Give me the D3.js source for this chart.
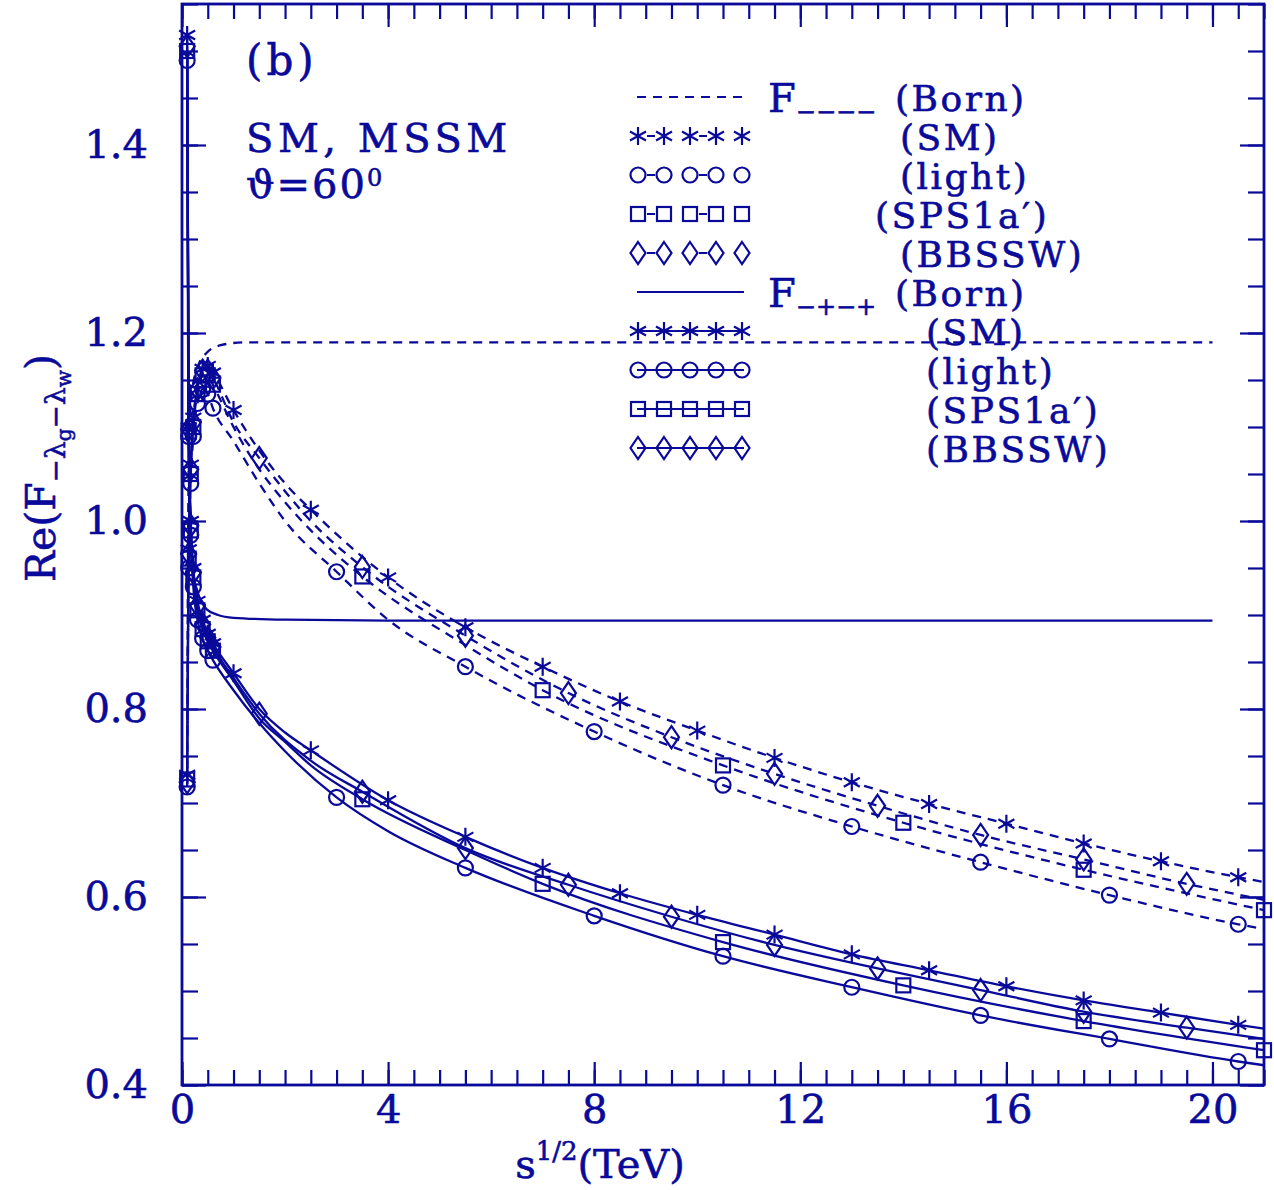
<!DOCTYPE html>
<html>
<head>
<meta charset="utf-8">
<script src="https://cdn.jsdelivr.net/npm/d3@7"></script>
<style>
  body { margin: 0; background: #fff; }
  text { font-family: "DejaVu Serif", serif; fill: #0a0a9a; stroke: #0a0a9a; stroke-width: 0.6px; }
</style>
</head>
<body>
<svg id="chart" width="1274" height="1190"></svg>
<script>
var COL = "#0a0a9a";

// tick values
var xMajor = [0, 4, 8, 12, 16, 20];
var xMinor = d3.range(0, 21.01, 0.5);
var yMajor = [0.4, 0.6, 0.8, 1.0, 1.2, 1.4];
var yMinor = d3.range(0.4, 1.5501, 0.05);

// Born curves
var bornMM = [[0.1,0.72],[0.12,1.0],[0.15,1.1],[0.2,1.14],[0.3,1.163],[0.48,1.179],[0.75,1.187],[1.2,1.19],[20,1.19]];
var bornPM = [[0.1,1.5],[0.12,1.15],[0.15,1.0],[0.2,0.95],[0.3,0.925],[0.48,0.906],[0.7,0.9],[1,0.897],[2,0.895],[4,0.894],[20,0.894]];

// F---- one-loop curves (dashed)
var smMM = [[0.1,0.73],[0.13,0.97],[0.17,1.06],[0.22,1.11],[0.3,1.14],[0.4,1.162],[0.5,1.165],[0.6,1.158],[1,1.118],[1.5,1.075],[2,1.04],[2.5,1.012],[4,0.94],[5.5,0.887],[7,0.845],[8.5,0.808],[10,0.777],[11.5,0.748],[13,0.722],[14.5,0.699],[16,0.678],[17.5,0.657],[19,0.638],[20.5,0.621],[21,0.616]];
var lightMM = [[0.1,0.717],[0.13,0.95],[0.17,1.04],[0.22,1.09],[0.3,1.125],[0.4,1.14],[0.5,1.135],[0.6,1.12],[1,1.085],[1.5,1.04],[2,1.0],[3,0.946],[4,0.895],[5.5,0.845],[8,0.776],[10.5,0.719],[13,0.675],[15.5,0.637],[18,0.602],[20.5,0.571],[21,0.566]];
var spsMM = [[0.1,0.725],[0.13,0.96],[0.17,1.05],[0.22,1.1],[0.3,1.135],[0.4,1.155],[0.5,1.155],[0.6,1.145],[1,1.1],[1.5,1.055],[2,1.02],[2.5,0.99],[3.5,0.941],[5.5,0.868],[7,0.82],[10.5,0.74],[14,0.679],[17.5,0.629],[21,0.586]];
var bbMM = [[0.1,0.722],[0.13,0.965],[0.17,1.055],[0.22,1.105],[0.3,1.14],[0.4,1.16],[0.5,1.16],[0.6,1.152],[1,1.105],[1.5,1.067],[2.5,1.0],[3.5,0.951],[5.5,0.878],[7.5,0.817],[9.5,0.77],[11.5,0.731],[13.5,0.697],[15.5,0.666],[17.5,0.64],[19.5,0.614],[21,0.597]];

// F-+-+ one-loop curves (solid)
var smPM = [[0.1,1.517],[0.13,1.1],[0.17,1.0],[0.22,0.95],[0.3,0.915],[0.4,0.895],[0.5,0.88],[0.6,0.87],[1,0.838],[1.5,0.8],[2,0.775],[2.5,0.756],[4,0.703],[5.5,0.664],[7,0.631],[8.5,0.604],[10,0.581],[11.5,0.56],[13,0.539],[14.5,0.522],[16,0.505],[17.5,0.49],[19,0.477],[20.5,0.464],[21,0.46]];
var lightPM = [[0.1,1.49],[0.13,1.09],[0.17,0.985],[0.22,0.93],[0.3,0.895],[0.4,0.875],[0.5,0.862],[0.6,0.852],[1,0.82],[1.5,0.785],[2,0.755],[3,0.706],[4,0.67],[5.5,0.631],[8,0.58],[10.5,0.537],[13,0.504],[15.5,0.474],[18,0.449],[20.5,0.425],[21,0.421]];
var spsPM = [[0.1,1.5],[0.13,1.095],[0.17,0.99],[0.22,0.94],[0.3,0.905],[0.4,0.885],[0.5,0.872],[0.6,0.862],[1,0.83],[1.5,0.79],[2,0.765],[2.5,0.74],[3.5,0.704],[5.5,0.65],[7,0.614],[10.5,0.552],[14,0.506],[17.5,0.468],[21,0.437]];
var bbPM = [[0.1,1.505],[0.13,1.098],[0.17,0.995],[0.22,0.945],[0.3,0.91],[0.4,0.89],[0.5,0.876],[0.6,0.866],[1,0.833],[1.5,0.795],[2.5,0.745],[3.5,0.712],[5.5,0.652],[7.5,0.613],[9.5,0.579],[11.5,0.549],[13.5,0.524],[15.5,0.501],[17.5,0.478],[19.5,0.461],[21,0.449]];

// x positions that carry a symbol
var nearThr = [0.1, 0.13, 0.17, 0.22, 0.3, 0.4, 0.5, 0.6];
var marksSM = nearThr.concat([1, 2.5, 4, 5.5, 7, 8.5, 10, 11.5, 13, 14.5, 16, 17.5, 19, 20.5]);
var marksLight = nearThr.concat([3, 5.5, 8, 10.5, 13, 15.5, 18, 20.5]);
var marksSPS = nearThr.concat([3.5, 7, 10.5, 14, 17.5, 21]);
var marksBB = nearThr.concat([1.5, 3.5, 5.5, 7.5, 9.5, 11.5, 13.5, 15.5, 17.5, 19.5]);

var margin = {left: 182, top: 4, right: 10, bottom: 105};
var W = 1274 - margin.left - margin.right;
var H = 1190 - margin.top - margin.bottom;

var svg = d3.select("#chart");
var g = svg.append("g").attr("transform", "translate(" + margin.left + "," + margin.top + ")");

var x = d3.scaleLinear().domain([0, 21]).range([0, W]);
var y = d3.scaleLinear().domain([0.4, 1.55]).range([H, 0]);

// ticks, all pointing inward
function tickStyle(sel) {
  sel.select(".domain").remove();
  sel.selectAll("line").attr("stroke", COL).attr("stroke-width", 2.2);
  sel.selectAll("text").style("font-size", "40px").attr("fill", COL);
}
g.append("g").attr("transform", "translate(0," + H + ")")
  .call(d3.axisBottom(x).tickValues(xMinor).tickSize(-15).tickFormat("")).call(tickStyle);
g.append("g").attr("transform", "translate(0," + H + ")")
  .call(d3.axisBottom(x).tickValues(xMajor).tickSize(-23).tickPadding(10).tickFormat(d3.format("d"))).call(tickStyle);
g.append("g")
  .call(d3.axisTop(x).tickValues(xMinor).tickSize(-15).tickFormat("")).call(tickStyle);
g.append("g")
  .call(d3.axisTop(x).tickValues(xMajor).tickSize(-23).tickFormat("")).call(tickStyle);
g.append("g")
  .call(d3.axisLeft(y).tickValues(yMinor).tickSize(-16).tickFormat("")).call(tickStyle);
g.append("g")
  .call(d3.axisLeft(y).tickValues(yMajor).tickSize(-24).tickPadding(34).tickFormat(d3.format(".1f"))).call(tickStyle);
g.append("g").attr("transform", "translate(" + W + ",0)")
  .call(d3.axisRight(y).tickValues(yMinor).tickSize(-16).tickFormat("")).call(tickStyle);
g.append("g").attr("transform", "translate(" + W + ",0)")
  .call(d3.axisRight(y).tickValues(yMajor).tickSize(-24).tickFormat("")).call(tickStyle);

g.append("rect").attr("width", W).attr("height", H)
  .attr("fill", "none").attr("stroke", COL).attr("stroke-width", 2.8);

// symbols
function drawSym(parent, shape, cx, cy) {
  var s;
  if (shape === "circle") {
    s = parent.append("circle").attr("r", 7.5);
  } else if (shape === "square") {
    s = parent.append("rect").attr("x", -7).attr("y", -7).attr("width", 14).attr("height", 14);
  } else if (shape === "diamond") {
    s = parent.append("path").attr("d", "M0,-11L7.5,0L0,11L-7.5,0Z");
  } else {
    s = parent.append("path").attr("d", "M0,-9V9M-8,-4.5L8,4.5M-8,4.5L8,-4.5");
  }
  s.attr("transform", "translate(" + cx + "," + cy + ")")
    .attr("fill", "none").attr("stroke", COL).attr("stroke-width", 2.2);
}

var line = d3.line()
  .x(function(d) { return x(d[0]); })
  .y(function(d) { return y(d[1]); })
  .curve(d3.curveMonotoneX);

var series = [
  {pts: bornMM, dash: true, shape: null, marks: []},
  {pts: bornPM, dash: false, shape: null, marks: []},
  {pts: smMM, dash: true, shape: "star", marks: marksSM},
  {pts: lightMM, dash: true, shape: "circle", marks: marksLight},
  {pts: spsMM, dash: true, shape: "square", marks: marksSPS},
  {pts: bbMM, dash: true, shape: "diamond", marks: marksBB},
  {pts: smPM, dash: false, shape: "star", marks: marksSM},
  {pts: lightPM, dash: false, shape: "circle", marks: marksLight},
  {pts: spsPM, dash: false, shape: "square", marks: marksSPS},
  {pts: bbPM, dash: false, shape: "diamond", marks: marksBB}
];

series.forEach(function(s) {
  g.append("path").datum(s.pts)
    .attr("d", line)
    .attr("fill", "none")
    .attr("stroke", COL)
    .attr("stroke-width", 2.3)
    .attr("stroke-dasharray", s.dash ? "9,7" : null);
  var mg = g.append("g");
  s.pts.forEach(function(p) {
    if (s.marks.indexOf(p[0]) >= 0) drawSym(mg, s.shape, x(p[0]), y(p[1]));
  });
});

// legend
var legend = [
  {dash: true, shape: null, f: "\u2212\u2212\u2212\u2212", label: "(Born)", lx: 895},
  {dash: true, shape: "star", label: "(SM)", lx: 900},
  {dash: true, shape: "circle", label: "(light)", lx: 900},
  {dash: true, shape: "square", label: "(SPS1a\u2032)", lx: 875},
  {dash: true, shape: "diamond", label: "(BBSSW)", lx: 900},
  {dash: false, shape: null, f: "\u2212+\u2212+", label: "(Born)", lx: 895},
  {dash: false, shape: "star", label: "(SM)", lx: 926},
  {dash: false, shape: "circle", label: "(light)", lx: 926},
  {dash: false, shape: "square", label: "(SPS1a\u2032)", lx: 926},
  {dash: false, shape: "diamond", label: "(BBSSW)", lx: 926}
];
var lg = svg.append("g");
legend.forEach(function(d, i) {
  var ly = 97 + i * 39;
  var ln = lg.append("line").attr("x1", 637).attr("x2", 744).attr("y1", ly).attr("y2", ly)
    .attr("stroke", COL).attr("stroke-width", 2.2);
  if (d.dash) ln.attr("stroke-dasharray", d.shape ? "0,9,8,35" : "9,7").attr("x1", d.shape ? 638 : 637);
  if (d.shape) {
    for (var k = 0; k < 5; k++) drawSym(lg, d.shape, 638 + k * 26, ly);
  }
  if (d.f) {
    var t = lg.append("text").attr("x", 768).attr("y", ly + 15).style("font-size", "40px").text("F");
    t.append("tspan").attr("dy", 8).style("font-size", "24px").text(d.f);
  }
  lg.append("text").attr("x", d.lx).attr("y", ly + 14).style("font-size", "36px")
    .style("letter-spacing", "2.5px").text(d.label);
});

// annotations
svg.append("text").attr("x", 246).attr("y", 75).style("font-size", "42px").style("letter-spacing", "4px").text("(b)");
svg.append("text").attr("x", 246).attr("y", 152).style("font-size", "40px").style("letter-spacing", "4.5px").text("SM,  MSSM");
var th = svg.append("text").attr("x", 246).attr("y", 198).style("font-size", "40px").style("letter-spacing", "2px").text("\u03d1=60");
th.append("tspan").attr("dy", -12).style("font-size", "24px").text("0");

// axis titles
var xt = svg.append("text").attr("x", 600).attr("y", 1178).attr("text-anchor", "middle").style("font-size", "40px").text("s");
xt.append("tspan").attr("dy", -18).style("font-size", "26px").text("1/2");
xt.append("tspan").attr("dy", 18).style("font-size", "40px").text("(TeV)");

var yt = svg.append("text").attr("transform", "translate(55,468) rotate(-90)")
  .attr("text-anchor", "middle").style("font-size", "41px").text("Re(F");
yt.append("tspan").attr("dy", 10).style("font-size", "28px").text("\u2212\u03bb");
yt.append("tspan").attr("dy", 6).style("font-size", "20px").text("g");
yt.append("tspan").attr("dy", -6).style("font-size", "28px").text("\u2212\u03bb");
yt.append("tspan").attr("dy", 6).style("font-size", "20px").text("w");
yt.append("tspan").attr("dy", -16).style("font-size", "41px").text(")");
</script>
</body>
</html>
